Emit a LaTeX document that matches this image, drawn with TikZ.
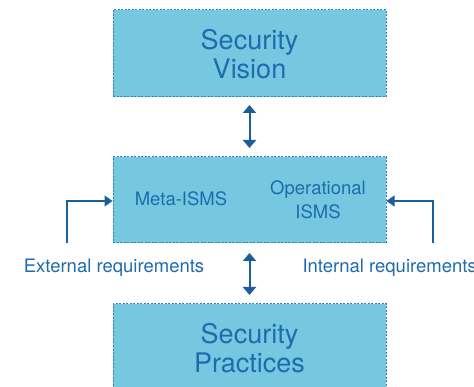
\documentclass[tikz,border=0pt]{standalone}
\usepackage{fontspec}
\setmainfont{TeX Gyre Heros}
\usetikzlibrary{arrows.meta}
\definecolor{boxfill}{HTML}{75C8E0}
\definecolor{boxline}{HTML}{2F80C0}
\definecolor{txtblue}{HTML}{1F6BAE}
\definecolor{arrblue}{HTML}{1A5E9E}
\tikzset{
  stage/.style={draw=boxline, fill=boxfill, dashed, dash pattern=on 2pt off 1.5pt, line width=1pt, minimum width=273pt, inner sep=0pt},
  bigtxt/.style={text=txtblue, font=\fontsize{27}{29}\selectfont, align=center},
  smalltxt/.style={text=txtblue, font=\fontsize{18.5}{24}\selectfont, align=center},
  dblarrow/.style={draw=arrblue, line width=2pt, {Triangle[width=13pt,length=8pt]}-{Triangle[width=13pt,length=8pt]}},
  reqarrow/.style={draw=arrblue, line width=1.3pt, -{Triangle[width=11pt,length=8pt]}}
}
\begin{document}
\begin{tikzpicture}[x=1pt, y=-1pt]
\useasboundingbox (0,0) rectangle (474,387);
\clip (0,0) rectangle (474,387);
\node[stage, minimum height=87pt] (vision) at (249.5,53.5) {};
\node[bigtxt] (visiontxt) at (249.5,54) {Security\\Vision};
\node[stage, minimum height=86pt] (isms) at (249.5,200) {};
\node[smalltxt] (meta) at (181,199) {Meta-ISMS};
\node[smalltxt] (oper) at (318,200) {Operational\\ISMS};
\node[stage, minimum height=120pt] (practice) at (249.5,364) {};
\node[bigtxt] (practicetxt) at (249.5,348) {Security\\Practices};
\draw[dblarrow] (249.5,105) -- (249.5,148);
\draw[dblarrow] (249.5,253) -- (249.5,295);
\coordinate (lfoot) at (67,243);
\coordinate (rfoot) at (433,243);
\draw[reqarrow] (lfoot) |- (isms.west |- 0,201);
\draw[reqarrow] (rfoot) |- (isms.east |- 0,201);
\node[text=txtblue, font=\fontsize{18.5}{20}\selectfont] (ext) at (114,268) {External requirements};
\node[text=txtblue, font=\fontsize{18.5}{20}\selectfont, anchor=west] (int) at (299,268) {Internal requirements};
\end{tikzpicture}
\end{document}
